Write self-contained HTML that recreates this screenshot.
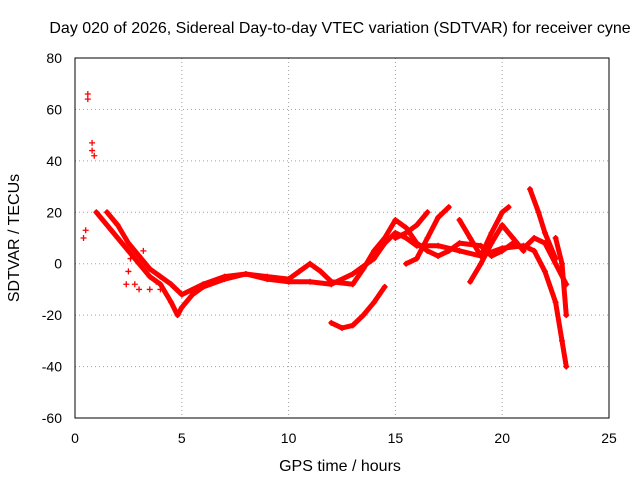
<!DOCTYPE html>
<html><head><meta charset="utf-8"><style>
body{margin:0;background:#fff}
svg{display:block;font-family:"Liberation Sans",sans-serif}
</style></head><body>
<svg id="chart" width="640" height="480">
<rect width="640" height="480" fill="#fff"/>
<text x="340" y="33" font-size="16" text-anchor="middle">Day 020 of 2026, Sidereal Day-to-day VTEC variation (SDTVAR) for receiver cyne</text>
<text x="340" y="471" font-size="16" text-anchor="middle">GPS time / hours</text>
<text x="19" y="238" font-size="16" text-anchor="middle" transform="rotate(-90 19 238)">SDTVAR / TECUs</text>
<g id="grid"></g><g id="marks"></g>
<rect x="75" y="58" width="534" height="360" fill="none" stroke="#000"/>
</svg>
<script>
const xTicks=[0,5,10,15,20,25];
const yTicks=[-60,-40,-20,0,20,40,60,80];
const trackA=[[1,20],[1.5,15],[2,10],[2.5,5],[3,0],[3.5,-5],[4,-8],[4.5,-15],[4.8,-20],[5,-17],[5.5,-12],[6,-9],[7,-6],[8,-4],[9,-6],[10,-7],[11,-7],[12,-8],[13,-4],[14,2],[14.5,8],[15,12],[15.5,10],[16,7],[17,7],[18,5],[19,3],[20,6],[21,7],[21.5,5],[22,-3],[22.5,-15],[22.8,-30],[23,-40]];
const trackB=[[1.5,20],[2,15],[2.5,8],[3,3],[3.5,-2],[4,-5],[4.5,-8],[5,-12],[6,-8],[7,-5],[8,-4],[9,-5],[10,-6],[10.5,-3],[11,0],[11.5,-3],[12,-7],[13,-8],[13.5,-2],[14,5],[14.5,10],[15,17],[15.5,14],[16,8],[16.5,5],[17,3],[17.5,5],[18,8],[19,7],[19.5,3],[20,5],[20.5,8],[21,6],[21.5,10],[22,8],[22.5,0],[23,-8]];
const trackC=[[12,-23],[12.5,-25],[13,-24],[13.5,-20],[14,-15],[14.5,-9]];
const trackD=[[15.5,0],[16,2],[16.5,10],[17,18],[17.5,22]];
const trackE=[[15,10],[15.5,12],[16,15],[16.5,20]];
const trackF=[[18,17],[18.5,10],[19,3],[19.5,12],[20,20],[20.3,22]];
const trackG=[[18.5,-7],[19,0],[19.5,8],[20,15],[20.5,10],[21,5]];
const trackH=[[21.3,29],[21.7,20],[22,12],[22.5,2]];
const trackI=[[22.5,10],[22.8,0],[23,-20]];
const scatter=[[0.4,10],[0.5,13],[0.6,66],[0.6,64],[0.8,47],[0.8,44],[0.9,42],[2.5,-3],[2.4,-8],[3,-10],[3.5,-10],[4,-10],[3.2,5],[2.2,8],[2.8,-8],[2.6,2],[3.3,0],[3.8,-7]];
const tracks=[trackA,trackB,trackC,trackD,trackE,trackF,trackG,trackH,trackI];
const NS="http://www.w3.org/2000/svg";
const X=h=>75+h*534/25, Y=v=>418-(v+60)*360/140;
function mk(t,a,p){const e=document.createElementNS(NS,t);for(const k in a)e.setAttribute(k,a[k]);p.appendChild(e);return e;}
const g=document.getElementById('grid'),m=document.getElementById('marks');
xTicks.forEach(t=>{
 if(t>0&&t<25){const l=mk('line',{x1:X(t),x2:X(t),y1:58,y2:418,stroke:'#a0a0a0','stroke-dasharray':'1,3'},g);
 
 }
 const tx=mk('text',{x:X(t),y:443,'font-size':14,'text-anchor':'middle'},g);tx.textContent=t;
 
 
});
yTicks.forEach(t=>{
 if(t>-60&&t<80){const l=mk('line',{x1:75,x2:609,y1:Y(t),y2:Y(t),stroke:'#a0a0a0','stroke-dasharray':'1,3'},g);
 
 }
 const tx=mk('text',{x:62,y:Y(t)+5,'font-size':14,'text-anchor':'end'},g);tx.textContent=t;
 
 
});
function plus(h,v){const x=X(h),y=Y(v);
 const p=mk('path',{d:`M${x-3},${y}h6M${x},${y-3}v6`,stroke:'#f00','stroke-width':1.3,fill:'none'},m);
 
 }
tracks.forEach((tr,i)=>{
 const p=mk('polyline',{points:tr.map(d=>X(d[0])+','+Y(d[1])).join(' '),fill:'none',stroke:'#f00','stroke-width':5,'stroke-linejoin':'round','stroke-linecap':'round'},m);
 
 
 tr.forEach(d=>plus(d[0],d[1]));
});
scatter.forEach(d=>plus(d[0],d[1]));
</script>
</body></html>
